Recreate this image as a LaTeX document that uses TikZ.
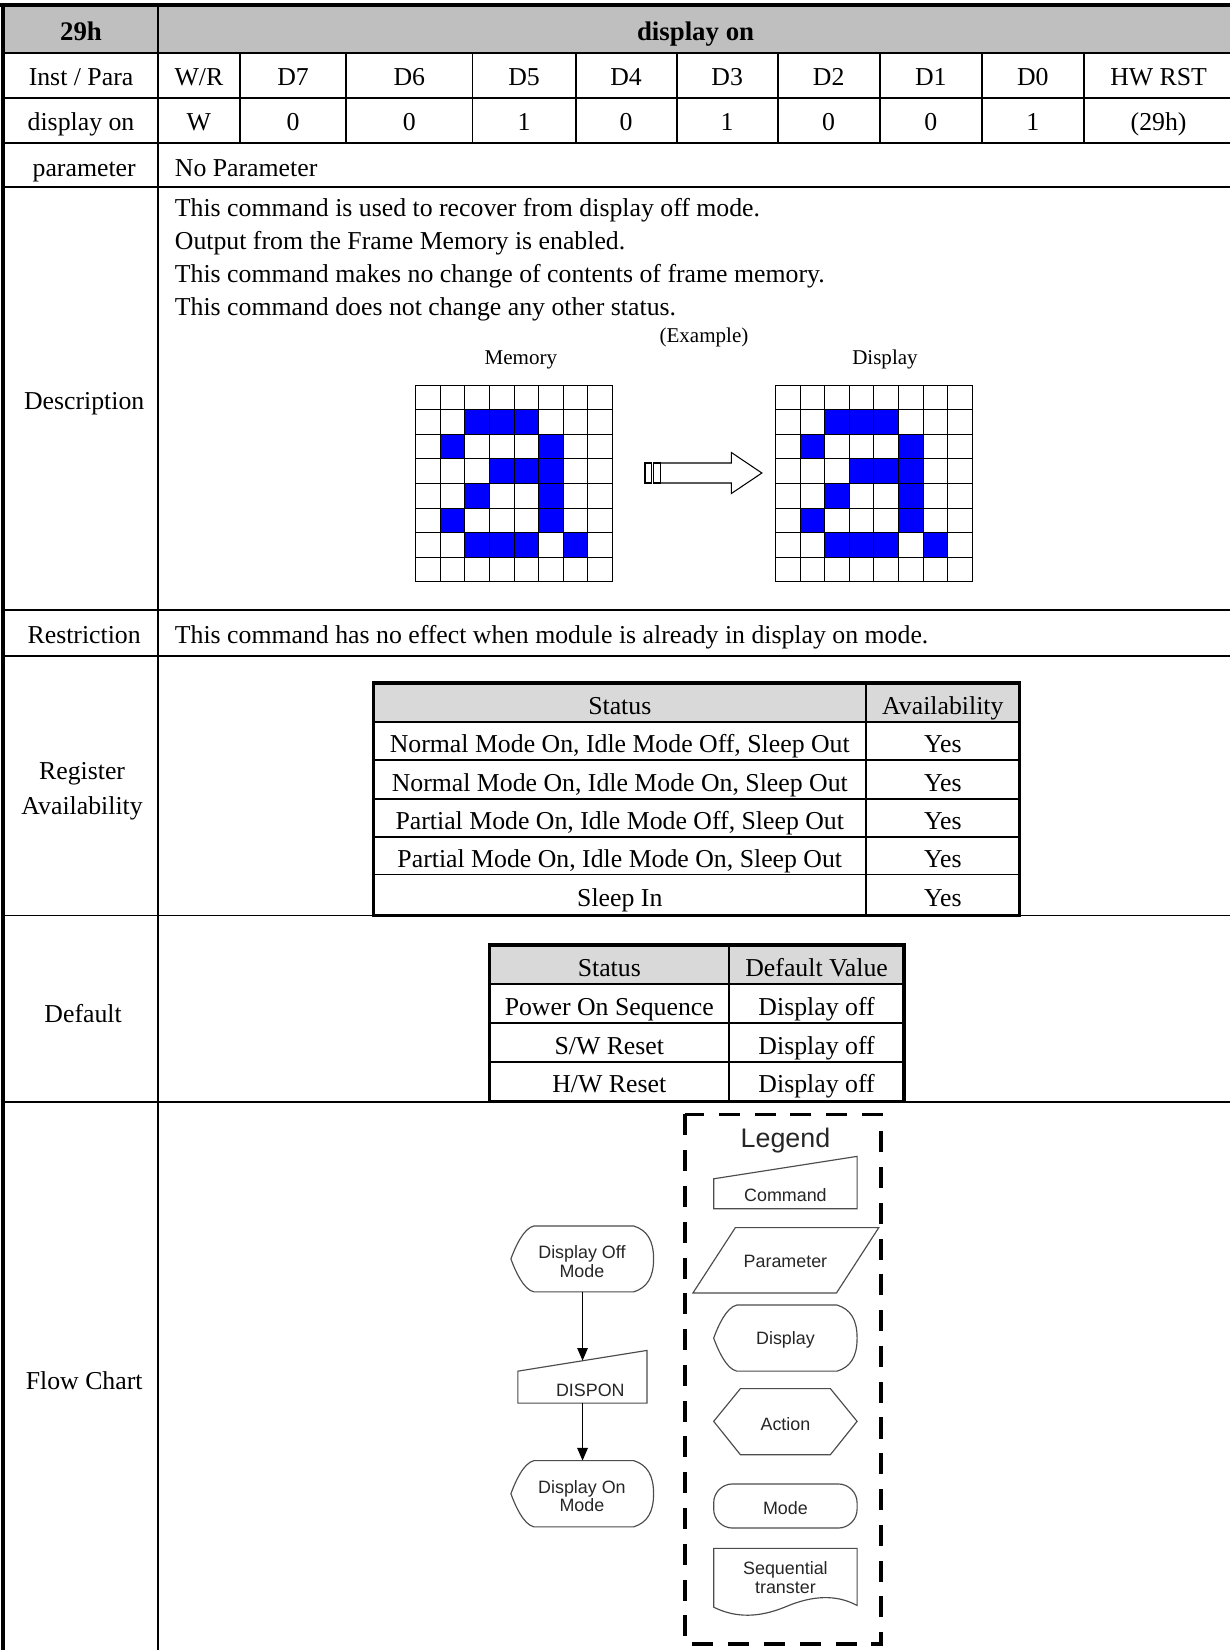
\documentclass[tikz,border=0pt]{standalone}
\usepackage{fontspec}
\setmainfont{Liberation Serif}
\setsansfont{Liberation Sans}
\usetikzlibrary{arrows.meta}
\tikzset{
  tx/.style={font=\fontsize{24.5}{30}\selectfont, inner sep=0pt, anchor=mid, yshift=-6pt},
  txl/.style={tx, anchor=mid west},
  txb/.style={tx, font=\fontsize{25.5}{30}\selectfont\bfseries},
  txc/.style={font=\fontsize{24.5}{34}\selectfont, inner sep=0pt, align=center, anchor=center, yshift=-3pt},
  sm/.style={font=\fontsize{20}{24}\selectfont, inner sep=0pt, anchor=mid, yshift=-3pt},
  fl/.style={font=\sffamily\fontsize{17}{17.5}\selectfont, inner sep=0pt, align=center, text=black!85, yshift=-2pt},
  fshape/.style={draw=black!70, line width=1.1pt},
  rulel/.style={line width=1.8pt},
  borderl/.style={line width=4pt},
  celll/.style={line width=1pt},
  flowarr/.style={-{Triangle[length=12pt,width=10pt]}, line width=1.2pt},
  tbout/.style={line width=3pt},
}
\newcommand\dispshape[4]{%
  \draw[fshape] ({#1+22},#3) -- ({#2-19},#3)
    .. controls ({#2-6},{#3+4}) and ({#2},{#3+14}) .. ({#2},{(#3+#4)/2})
    .. controls ({#2},{#4-14}) and ({#2-6},{#4-4}) .. ({#2-19},#4)
    -- ({#1+22},#4)
    .. controls ({#1+12},{#4-2}) and ({#1+4},{(#3+#4)/2+11}) .. (#1,{(#3+#4)/2})
    .. controls ({#1+4},{(#3+#4)/2-11}) and ({#1+12},{#3+2}) .. ({#1+22},#3) -- cycle;}
\begin{document}
\begin{tikzpicture}[x=1pt,y=-1pt]
\useasboundingbox (0,0) rectangle (1169,1568);
\fill[white] (0,0) rectangle (1169,1568);
% ---------- main table ----------
\fill[gray!50] (3,5) rectangle (1169,50);
\foreach \yy in {50,93,136,178,580,623,870,1047}
  \draw[rulel] (3,\yy) -- (1169,\yy);
\draw[rulel] (150,5) -- (150,1568);
\foreach \xx in {228,329,449,547,643,739,836,933,1030}
  \draw[rulel] (\xx,50) -- (\xx,136);
\draw[borderl] (0,5) -- (1169,5);
\draw[borderl] (3,3) -- (3,1568);
% header
\node[txb] (h29) at (77,30) {29h};
\node[txb] (hdisp) at (661,30) {display on};
% row 2
\node[tx] (ip) at (77,73) {Inst / Para};
\node[tx] (wr) at (189,73) {W/R};
\node[tx] (d7) at (278.5,73) {D7};
\node[tx] (d6) at (389,73) {D6};
\node[tx] (d5) at (498,73) {D5};
\node[tx] (d4) at (595,73) {D4};
\node[tx] (d3) at (691,73) {D3};
\node[tx] (d2) at (787.5,73) {D2};
\node[tx] (d1) at (884.5,73) {D1};
\node[tx] (d0) at (981.5,73) {D0};
\node[tx] (hw) at (1101,73) {HW RST};
% row 3
\node[tx] (don) at (77,116) {display on};
\node[tx] (vw) at (189,116) {W};
\node[tx] (v7) at (278.5,116) {0};
\node[tx] (v6) at (389,116) {0};
\node[tx] (v5) at (498,116) {1};
\node[tx] (v4) at (595,116) {0};
\node[tx] (v3) at (691,116) {1};
\node[tx] (v2) at (787.5,116) {0};
\node[tx] (v1) at (884.5,116) {0};
\node[tx] (v0) at (981.5,116) {1};
\node[tx] (vhw) at (1101,116) {(29h)};
% row 4
\node[tx] (par) at (80,159) {parameter};
\node[txl] (nopar) at (166,159) {No Parameter};
% description
\node[tx] (descl) at (80,381) {Description};
\node[txl] (ds1) at (166,197) {This command is used to recover from display off mode.};
\node[txl] (ds2) at (166,228.5) {Output from the Frame Memory is enabled.};
\node[txl] (ds3) at (166,260) {This command makes no change of contents of frame memory.};
\node[txl] (ds4) at (166,291.5) {This command does not change any other status.};
\node[sm] (ex) at (669,320) {(Example)};
\node[sm] (memt) at (495,341) {Memory};
\node[sm] (dispt) at (841,341) {Display};
% grids
\foreach \gx in {395,737}{
  \foreach \r/\c in {1/2,1/3,1/4,2/1,2/5,3/3,3/4,3/5,4/2,4/5,5/1,5/5,6/2,6/3,6/4,6/6}
    \fill[blue] ({\gx+\c*23.375},{366+\r*23.375}) rectangle ++(23.375,23.375);
  \foreach \i in {0,...,8}{
    \draw[celll] ({\gx+\i*23.375},366) -- ({\gx+\i*23.375},553);
    \draw[celll] (\gx,{366+\i*23.375}) -- ({\gx+187},{366+\i*23.375});
  }
}
% transfer arrow
\draw[line width=1.6pt] (613,440) rectangle (619,459);
\draw[line width=1pt] (621,440) rectangle (628,459);
\draw[line width=1pt] (628,440) -- (695,440) -- (695,430) -- (724,449.5) -- (695,469) -- (695,459) -- (628,459);
% restriction
\node[tx] (restl) at (80,603) {Restriction};
\node[txl] (restt) at (166,603) {This command has no effect when module is already in display on mode.};
% register availability
\node[txc] (regl) at (78,749) {Register\\Availability};
\fill[gray!30] (355,649) rectangle (969,686);
\foreach \yy in {686,722,759,795,831}
  \draw[rulel] (355,\yy) -- (969,\yy);
\draw[rulel] (823,649) -- (823,870);
\draw[tbout] (355,649) rectangle (969,870);
\node[tx] (st1) at (589,671) {Status};
\node[tx] (av1) at (896,671) {Availability};
\node[tx] (r1) at (589,707) {Normal Mode On, Idle Mode Off, Sleep Out};
\node[tx] (y1) at (896,707) {Yes};
\node[tx] (r2) at (589,743.5) {Normal Mode On, Idle Mode On, Sleep Out};
\node[tx] (y2) at (896,743.5) {Yes};
\node[tx] (r3) at (589,780) {Partial Mode On, Idle Mode Off, Sleep Out};
\node[tx] (y3) at (896,780) {Yes};
\node[tx] (r4) at (589,816) {Partial Mode On, Idle Mode On, Sleep Out};
\node[tx] (y4) at (896,816) {Yes};
\node[tx] (r5) at (589,853) {Sleep In};
\node[tx] (y5) at (896,853) {Yes};
% default
\node[tx] (defl) at (79,963) {Default};
\fill[gray!30] (465,898) rectangle (859,935);
\foreach \yy in {935,972,1009}
  \draw[rulel] (465,\yy) -- (859,\yy);
\draw[rulel] (693,898) -- (693,1047);
\draw[tbout] (465,898) rectangle (859,1047);
\node[tx] (st2) at (579,919.5) {Status};
\node[tx] (dv2) at (776,919.5) {Default Value};
\node[tx] (p1) at (579,956.5) {Power On Sequence};
\node[tx] (p1v) at (776,956.5) {Display off};
\node[tx] (p2) at (579,993.5) {S/W Reset};
\node[tx] (p2v) at (776,993.5) {Display off};
\node[tx] (p3) at (579,1030) {H/W Reset};
\node[tx] (p3v) at (776,1030) {Display off};
% flow chart
\node[tx] (flowl) at (80,1312) {Flow Chart};
\draw[line width=3.5pt, dash pattern=on 20pt off 14pt] (651,1059) rectangle (837,1562);
\node[fl, font=\sffamily\fontsize{25.5}{28}\selectfont] (leg) at (746.4,1082) {Legend};
% command
\draw[fshape] (678.2,1120.2) -- (814.5,1098.9) -- (814.5,1148.6) -- (678.2,1148.6) -- cycle;
\node[fl] (lcmd) at (746.4,1134) {Command};
% parameter
\draw[fshape] (698.8,1166.6) -- (835.1,1166.6) -- (794.9,1228.7) -- (658.5,1228.7) -- cycle;
\node[fl] (lpar) at (746.4,1197) {Parameter};
% display
\dispshape{678.2}{814.5}{1240.2}{1303}
\node[fl] (ldisp) at (746.4,1271.5) {Display};
% action
\draw[fshape] (678.2,1350.7) -- (703.6,1319.6) -- (789.1,1319.6) -- (814.5,1350.7) -- (789.1,1382.4) -- (703.6,1382.4) -- cycle;
\node[fl] (lact) at (746.4,1351) {Action};
% mode
\draw[fshape, rounded corners=18pt] (678.2,1410.2) rectangle (814.5,1452.1);
\node[fl] (lmode) at (746.4,1431.5) {Mode};
% sequential transfer
\draw[fshape] (678.2,1527.3) -- (678.2,1471.4) -- (814.5,1471.4) -- (814.5,1525.7)
  .. controls (795,1515) and (772,1516) .. (746.4,1527)
  .. controls (722,1537) and (700,1538) .. (678.2,1527.3) -- cycle;
\node[fl] (lseq) at (746.4,1497) {Sequential\\transter};
% main flow
\dispshape{485.5}{621.1}{1165}{1227.7}
\node[fl] (off) at (553,1197) {Display Off\\Mode};
\draw[fshape] (492.1,1303) -- (614.8,1283.3) -- (614.8,1333.4) -- (492.1,1333.4) -- cycle;
\node[fl] (dispon) at (561,1319) {DISPON};
\dispshape{485.5}{621.1}{1388}{1451}
\node[fl] (on) at (553,1420) {Display On\\Mode};
\coordinate (offB) at (553.6,1227.7);
\coordinate (dispT) at (553.6,1293);
\coordinate (dispB) at (553.6,1333.4);
\coordinate (onT) at (553.6,1388);
\draw[flowarr] (offB) -- (dispT);
\draw[flowarr] (dispB) -- (onT);
\end{tikzpicture}
\end{document}
